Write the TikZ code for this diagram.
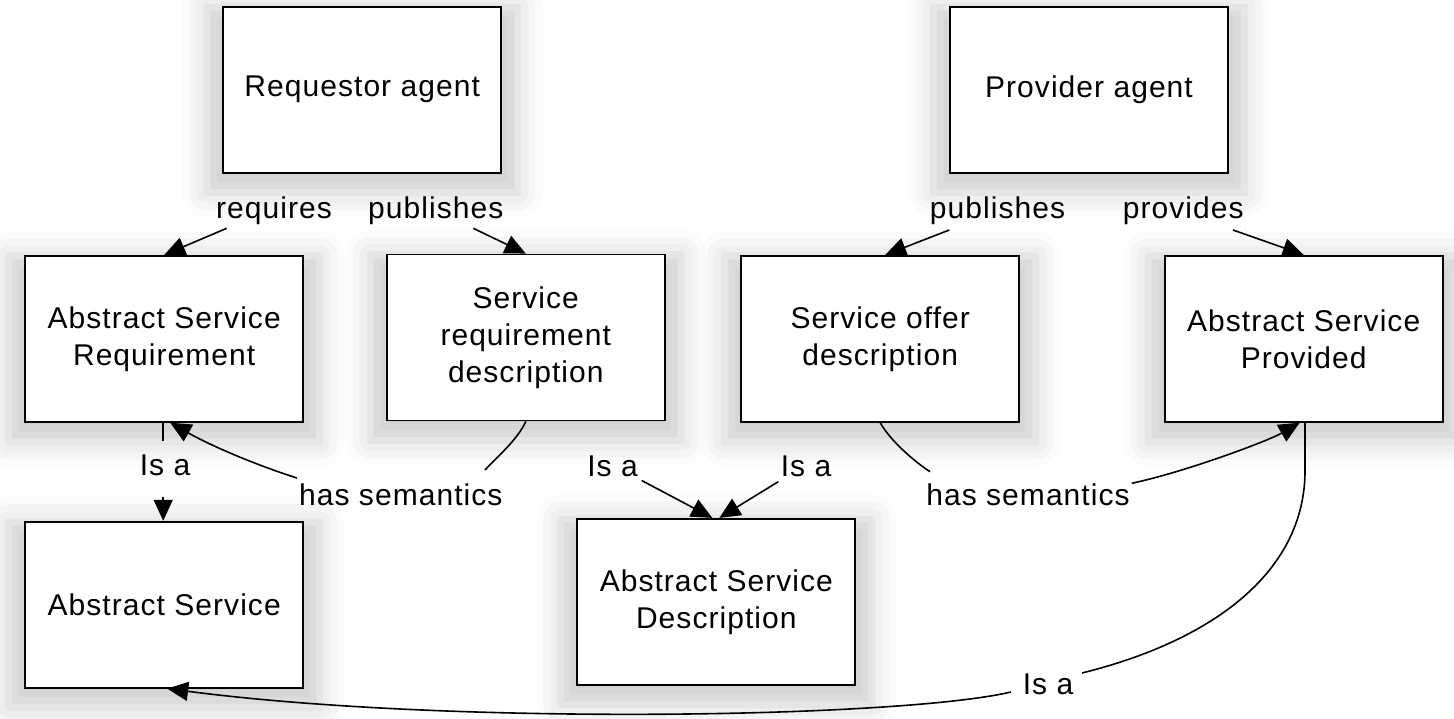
\documentclass[tikz,border=0pt]{standalone}
\usepackage{fontspec}
\setmainfont{Liberation Sans}[LetterSpace=3.5]
\usetikzlibrary{arrows.meta,shadows.blur,calc}

\begin{document}
\begin{tikzpicture}[x=1pt,y=-1pt,
  box/.style={draw, line width=1.8pt, fill=white,
    minimum width=278pt, minimum height=166pt, inner sep=0pt,
    align=center, font=\fontsize{30}{37}\selectfont,
    blur shadow={shadow xshift=0pt, shadow yshift=-9pt, shadow scale=1.12,
      shadow blur radius=22pt, shadow opacity=20}},
  lbl/.style={font=\fontsize{30}{34}\selectfont, inner sep=0pt, anchor=base},
  link/.style={line width=1.6pt},
  arr/.style={link, -{Triangle[length=21pt,width=19pt]}},
]
\useasboundingbox (0,0) rectangle (1454,719);

% concepts
\node[box] (req)  at (362.2,89.7)  {Requestor agent};
\node[box] (prov) at (1089,89.8)   {Provider agent};
\node[box] (asr)  at (164.2,338.8) {Abstract Service\\Requirement};
\node[box] (srd)  at (525.8,337.5) {Service\\requirement\\description};
\node[box] (sod)  at (880.2,338.8) {Service offer\\description};
\node[box] (asp)  at (1303.7,338.8){Abstract Service\\Provided};
\node[box] (as)   at (164.2,604.7) {Abstract Service};
\node[box] (asd)  at (716.3,601.8) {Abstract Service\\Description};

% relation names
\node[lbl] (lreq)  at (274,218.3)   {requires};
\node[lbl] (lpub1) at (435.8,218.3) {publishes};
\node[lbl] (lpub2) at (997.5,218.3) {publishes};
\node[lbl] (lprov) at (1183.3,218.3){provides};
\node[lbl] (lisa1) at (165,475)     {Is a};
\node[lbl] (lsem1) at (400.8,505.5) {has semantics};
\node[lbl] (lisa2) at (612.5,476)   {Is a};
\node[lbl] (lisa3) at (806,476)     {Is a};
\node[lbl] (lsem2) at (1028,505.5)  {has semantics};
\node[lbl] (lisa4) at (1048,694)    {Is a};

% agent relations
\draw[arr] ($(lreq.base)+(-47.3,10)$) -- (asr.north);
\draw[arr] ($(lpub1.base)+(37.5,10)$) -- (srd.north);
\draw[arr] ($(lpub2.base)+(-48.2,11.7)$) -- ([xshift=5pt]sod.north);
\draw[arr] ($(lprov.base)+(49.7,11.7)$) -- (asp.north);

% requirement is a service
\draw[link] ([xshift=-1pt]asr.south) -- ++(0,18);
\draw[arr] ([xshift=-1pt,yshift=24pt]as.north) -- ([xshift=-1pt]as.north);

% semantics of the requirement description
\draw[link] (srd.south) .. controls +(-8,18) and +(12,-13) .. ($(lsem1.base)+(84.2,-35.5)$);
\draw[arr] ($(lsem1.base)+(-103.8,-27.5)$) .. controls +(-35,-11) and +(44.8,25.3) .. ([xshift=6pt]asr.south);

% both descriptions are service descriptions
\draw[arr] ($(lisa2.base)+(29.2,4.5)$) -- ([xshift=-4pt]asd.north);
\draw[arr] ($(lisa3.base)+(-27.7,5.7)$) -- ([xshift=3pt]asd.north);

% semantics of the offer description
\draw[link] (sod.south) .. controls +(10,18) and +(-15,-9.7) .. ($(lsem2.base)+(-98,-33.8)$);
\draw[arr] ($(lsem2.base)+(103.7,-22.2)$) .. controls +(53.3,-11.3) and +(-31.7,18.3) .. ([xshift=-4pt]asp.south);

% provided service is a service
\draw[link] ([xshift=1.3pt]asp.south) -- ++(0,48) .. controls +(0,100) and +(133,-33) .. ($(lisa4.base)+(34,-21)$);
\draw[arr] ($(lisa4.base)+(-37,-2)$) .. controls +(-111,26) and +(283,37) .. ([xshift=3pt]as.south);
\end{tikzpicture}
\end{document}
